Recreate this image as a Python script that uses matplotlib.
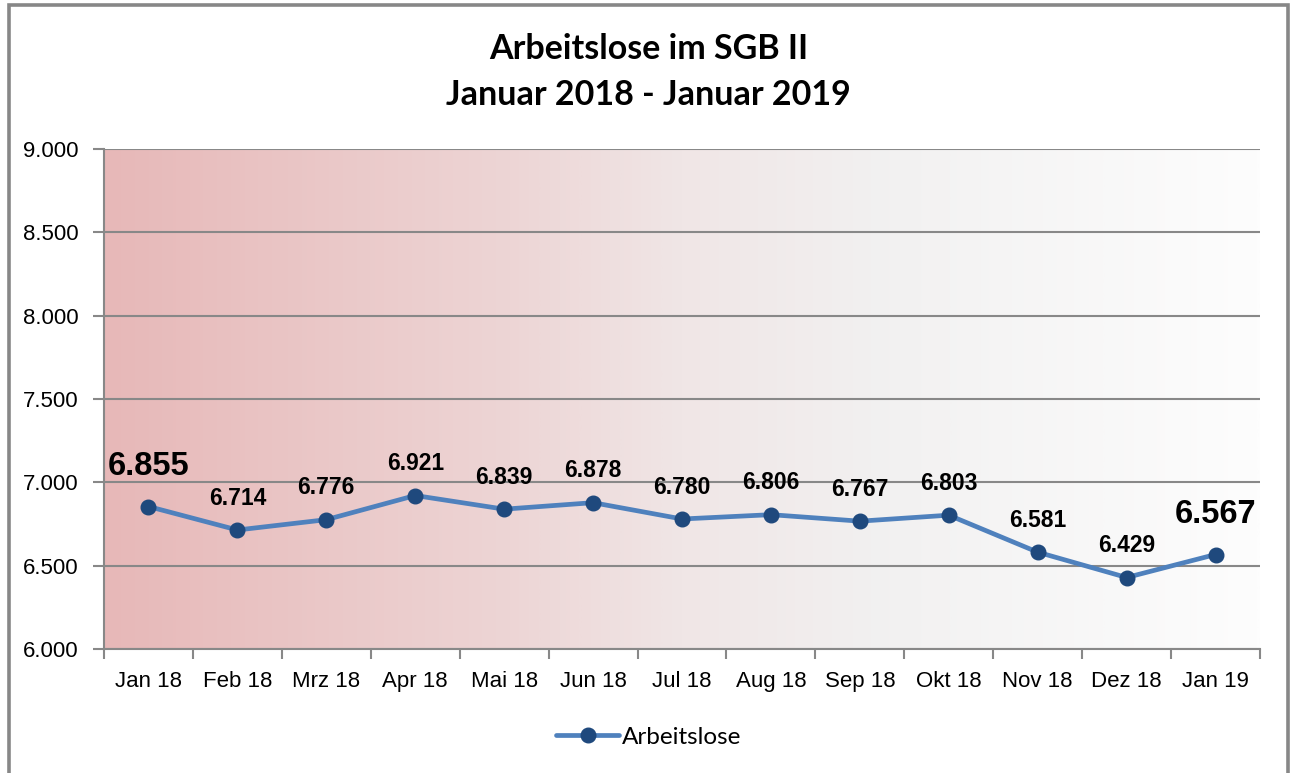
import matplotlib
matplotlib.use("Agg")
import matplotlib.pyplot as plt
import numpy as np
from matplotlib.patches import Rectangle
from matplotlib.ticker import FuncFormatter, FixedLocator
from matplotlib.colors import LinearSegmentedColormap

categories = ["Jan 18", "Feb 18", "Mrz 18", "Apr 18", "Mai 18", "Jun 18", "Jul 18",
              "Aug 18", "Sep 18", "Okt 18", "Nov 18", "Dez 18", "Jan 19"]
values = [6855, 6714, 6776, 6921, 6839, 6878, 6780, 6806, 6767, 6803, 6581, 6429, 6567]
y_ticks = [6000, 6500, 7000, 7500, 8000, 8500, 9000]
title = "Arbeitslose im SGB II\nJanuar 2018 - Januar 2019"
series_name = "Arbeitslose"

W, H = 1297, 773
fig = plt.figure(figsize=(W / 100, H / 100), dpi=100)
fig.patch.set_facecolor("white")

ax = fig.add_axes([104 / W, 1 - 649 / H, (1260 - 104) / W, (649 - 149) / H])

# gradient background
grad_colors = [(0.0, (231/255, 184/255, 184/255)),
               (0.35, (237/255, 213/255, 213/255)),
               (0.5, (240/255, 230/255, 230/255)),
               (0.68, (242/255, 241/255, 241/255)),
               (1.0, (253/255, 253/255, 253/255))]
cmap = LinearSegmentedColormap.from_list("bg", grad_colors)
grad = np.linspace(0, 1, 512).reshape(1, -1)
ax.imshow(grad, cmap=cmap, aspect="auto", extent=[0, 1, 0, 1],
          transform=ax.transAxes, zorder=0.1, interpolation="bilinear")

x = np.arange(len(categories))
ax.plot(x, values, color="#4F81BD", lw=3.4, marker="o", markersize=10.5,
        markerfacecolor="#1F497D", markeredgecolor="#1F497D", zorder=3,
        label=series_name, solid_capstyle="round")

ax.set_xlim(-0.5, len(categories) - 0.5)
ax.set_ylim(6000, 9000)
ax.set_yticks(y_ticks)
ax.yaxis.set_major_formatter(FuncFormatter(lambda v, p: f"{int(v):,}".replace(",", ".")))
ax.set_xticks(x)
ax.set_xticklabels(categories)
ax.xaxis.set_minor_locator(FixedLocator(np.arange(-0.5, len(categories), 1)))
ax.tick_params(axis="x", which="major", length=0, pad=16, labelsize=16)
ax.tick_params(axis="x", which="minor", length=7, width=1.5, color="#888888")
ax.tick_params(axis="y", length=8, width=1.5, color="#888888", pad=10, labelsize=16)
for lab in ax.get_xticklabels() + ax.get_yticklabels():
    lab.set_fontfamily("Liberation Sans")

ax.set_axisbelow(True)
ax.grid(axis="y", color="#888888", lw=1.5, zorder=0.5)
for s in ["top", "right"]:
    ax.spines[s].set_visible(False)
for s in ["left", "bottom"]:
    ax.spines[s].set_color("#888888")
    ax.spines[s].set_linewidth(1.5)

# data labels
big = {0, len(values) - 1}
for i, v in enumerate(values):
    txt = f"{v:,}".replace(",", ".")
    if i in big:
        ax.annotate(txt, (i, v), xytext=(0, 29), textcoords="offset points",
                    ha="center", va="center", fontsize=23.5, fontweight="bold",
                    family="Liberation Sans", zorder=4)
    else:
        ax.annotate(txt, (i, v), xytext=(0, 23), textcoords="offset points",
                    ha="center", va="center", fontsize=16.5, fontweight="bold",
                    family="Liberation Sans", zorder=4)

fig.text(0.5, 1 - 72 / H, title, ha="center", va="center", fontsize=24.5,
         fontweight="bold", family="Lato", linespacing=1.55)

leg = fig.legend(loc="center", bbox_to_anchor=(0.5, 1 - 737 / H), frameon=False,
                 prop={"family": "Lato", "size": 17.5}, handlelength=2.6,
                 handletextpad=0.1)

# outer frame
fig.add_artist(Rectangle((9 / W, -0.05), (1288 - 9) / W, 1.05 - 5 / H,
                         transform=fig.transFigure, fill=False,
                         edgecolor="#878787", lw=2.6))

fig.savefig("out.png", dpi=100)
